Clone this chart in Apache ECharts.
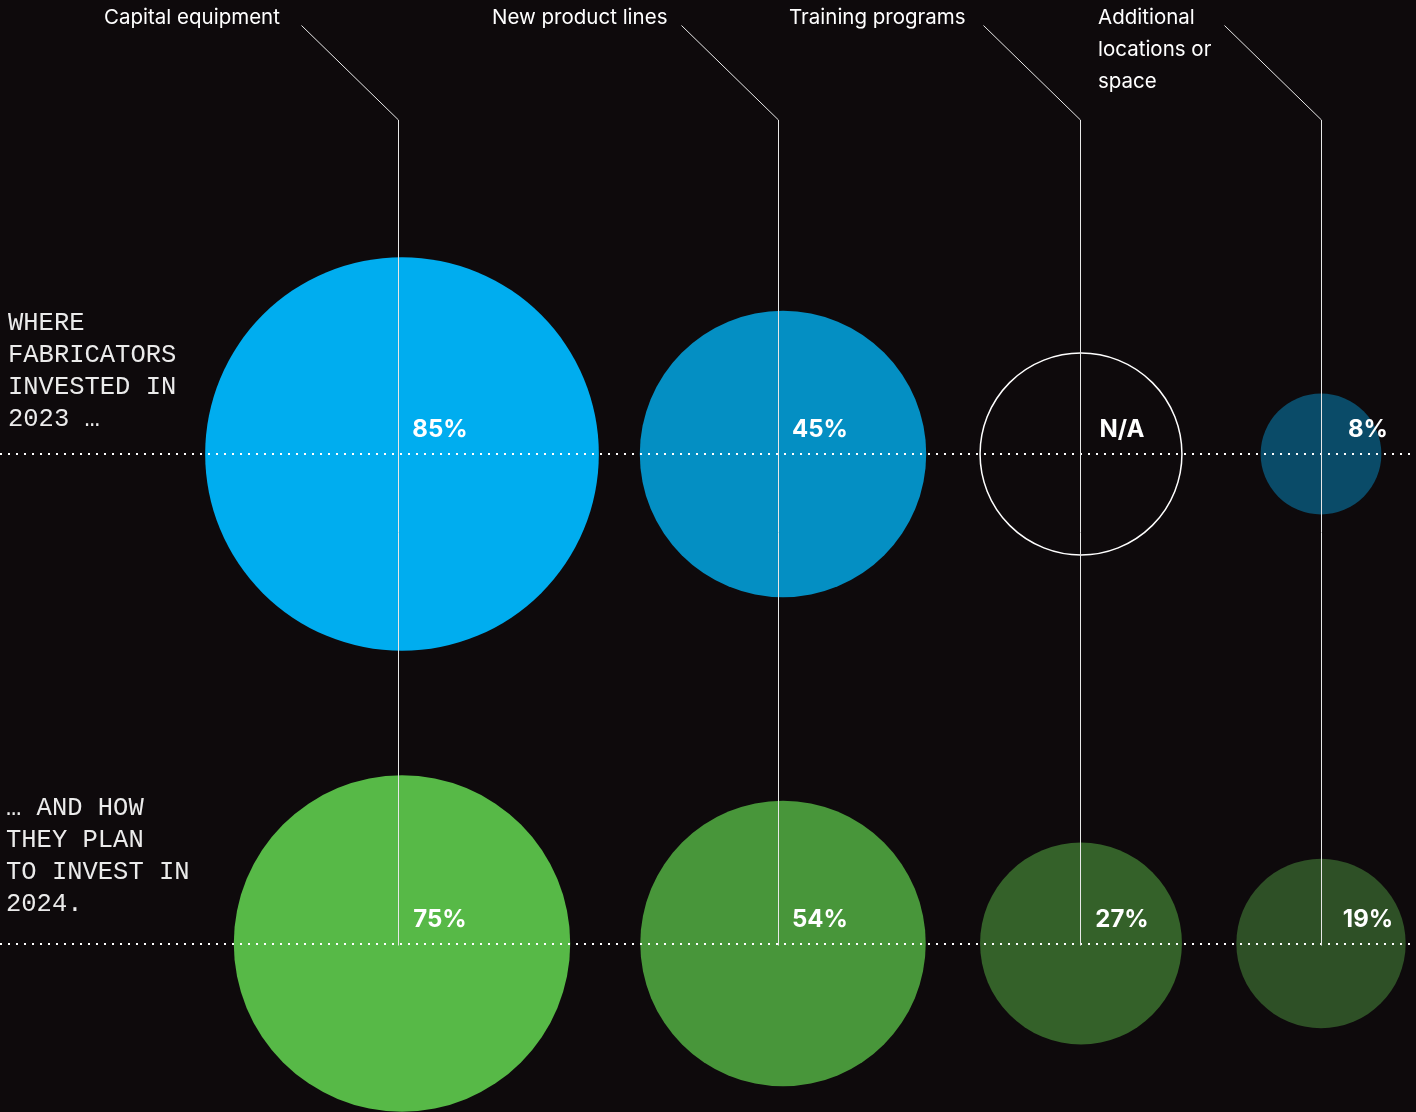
<!DOCTYPE html>
<html>
<head>
<meta charset="utf-8">
<style>
html,body{margin:0;padding:0;background:#0e0a0c;}
#c{width:1416px;height:1112px;}
</style>
<script src="https://cdn.jsdelivr.net/npm/echarts@6/dist/echarts.min.js"></script>
</head>
<body>
<div id="c"></div>
<script>
// ---- data ----
const categories = ['Capital equipment', 'New product lines', 'Training programs', 'Additional\nlocations or\nspace'];
const rowLabels = ['WHERE\nFABRICATORS\nINVESTED IN\n2023 …', '… AND HOW\nTHEY PLAN\nTO INVEST IN\n2024.'];
const values2023 = [85, 45, null, 8];
const values2024 = [75, 54, 27, 19];

// ---- styles / layout ----
const colors2023 = ['#00adef', '#048fc3', null, '#0a4b68'];
const colors2024 = ['#57b947', '#48963a', '#346129', '#2e5026'];
const colCenter = [402, 783, 1081, 1321];
const lineX = [398, 778, 1080, 1321];
const labelX = [104, 492, 789, 1098];
const rowScale = [42.7, 38.85];
const rowTextX = [8, 6];
const rowTextTop = [307, 792];

const chart = echarts.init(document.getElementById('c'));
const unit = 489.5, row0 = 454;

function circleData(vals, row, colors, scale, fallbackSize) {
  return vals.map((v, i) => {
    const size = v != null ? scale * Math.sqrt(v) : fallbackSize[i];
    const item = { value: [colCenter[i], row, v], symbolSize: size };
    if (v == null) {
      item.itemStyle = { color: 'rgba(0,0,0,0)', borderColor: '#ffffff', borderWidth: 1.5, opacity: 1 };
    } else {
      item.itemStyle = { color: colors[i], opacity: 1 };
    }
    return item;
  });
}

function labelData(vals, row) {
  return vals.map((v, i) => ({ value: [lineX[i], row, v], label: { offset: [i === 3 ? 47 : 42, -24] } }));
}

const labelCommon = {
  show: true, position: 'inside', color: '#ffffff',
  fontFamily: 'Inter', fontWeight: 'bold', fontSize: 24,
  formatter: p => p.value[2] == null ? 'N/A' : p.value[2] + '%'
};

// size of the N/A outline: same as the 2024 circle of that column
const sizes2024 = values2024.map(v => rowScale[1] * Math.sqrt(v));

chart.setOption({
  backgroundColor: '#0e0a0c',
  animation: false,
  grid: { left: 0, right: 0, top: 0, bottom: 0 },
  xAxis: { type: 'value', min: 0, max: 1416, show: false },
  yAxis: { type: 'value', min: -row0 / unit, max: (1112 - row0) / unit, inverse: true, show: false },
  series: [
    { type: 'scatter', z: 2, symbol: 'circle', data: circleData(values2023, 0, colors2023, rowScale[0], sizes2024), silent: true },
    { type: 'scatter', z: 2, symbol: 'circle', data: circleData(values2024, 1, colors2024, rowScale[1], sizes2024), silent: true },
    {
      type: 'scatter', z: 6, symbol: 'circle', symbolSize: 1,
      itemStyle: { color: 'rgba(0,0,0,0)', opacity: 1 },
      data: labelData(values2023, 0).concat(labelData(values2024, 1)),
      label: labelCommon, silent: true,
      markLine: {
        silent: true, symbol: 'none', label: { show: false },
        lineStyle: { type: [2, 6], width: 2, color: '#ffffff', opacity: 1 },
        data: [{ yAxis: 0 }, { yAxis: 1 }]
      }
    }
  ]
});

const gfx = [];
categories.forEach((c, i) => {
  const p = chart.convertToPixel({ gridIndex: 0 }, [lineX[i], 1]);
  gfx.push({
    type: 'polyline', z: 5, silent: true,
    shape: { points: [[lineX[i] - 96.5, 25.5], [p[0] + 0.5, 120], [p[0] + 0.5, p[1] + 2]] },
    style: { stroke: '#e8e8e8', lineWidth: 1, fill: null }
  });
  gfx.push({
    type: 'text', z: 5, silent: true, x: labelX[i], y: 2,
    style: { text: c, fill: '#ffffff', font: '20.5px Inter', lineHeight: 32, verticalAlign: 'top', align: 'left' }
  });
});
rowLabels.forEach((t, r) => {
  gfx.push({
    type: 'text', z: 5, silent: true, x: rowTextX[r], y: rowTextTop[r],
    style: { text: t, fill: '#ebebeb', font: '25.5px "Liberation Mono"', lineHeight: 32, verticalAlign: 'top', align: 'left' }
  });
});
chart.setOption({ graphic: gfx });
</script>
</body>
</html>
